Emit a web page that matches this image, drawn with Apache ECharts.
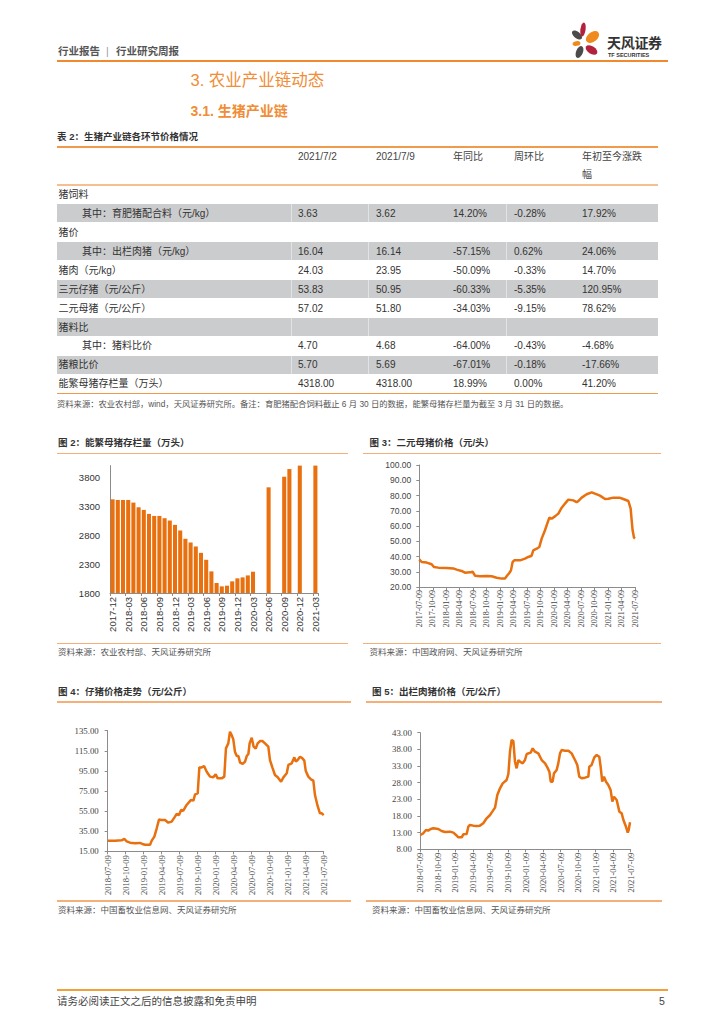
<!DOCTYPE html>
<html><head><meta charset="utf-8">
<script src="https://cdn.jsdelivr.net/npm/echarts/dist/echarts.min.js"></script>
<style>
html,body{margin:0;padding:0;background:#fff;}
#page{position:relative;width:724px;height:1024px;overflow:hidden;font-family:"Liberation Sans","Noto Sans CJK SC",sans-serif;color:#333;}
.t{position:absolute;white-space:nowrap;transform:translateY(-50%);line-height:1.2;}
.box{position:absolute;}
#chart{position:absolute;left:0;top:0;width:724px;height:1024px;}
</style></head>
<body><div id="page"><div id="chart"></div></div>
<script>
// ---------- DATA ----------
const tblHeader = ['2021/7/2', '2021/7/9', '年同比', '周环比', '年初至今涨跌幅'];
const rowLabels = ['猪饲料', '其中：育肥猪配合料（元/kg）', '猪价', '其中：出栏肉猪（元/kg）', '猪肉（元/kg）', '三元仔猪（元/公斤）', '二元母猪（元/公斤）', '猪料比', '其中：猪料比价', '猪粮比价', '能繁母猪存栏量（万头）'];
const rowIndent = [0, 1, 0, 1, 0, 0, 0, 0, 1, 0, 0];
const col0702 = ['', '3.63', '', '16.04', '24.03', '53.83', '57.02', '', '4.70', '5.70', '4318.00'];
const col0709 = ['', '3.62', '', '16.14', '23.95', '50.95', '51.80', '', '4.68', '5.69', '4318.00'];
const colYoY = ['', '14.20%', '', '-57.15%', '-50.09%', '-60.33%', '-34.03%', '', '-64.00%', '-67.01%', '18.99%'];
const colWoW = ['', '-0.28%', '', '0.62%', '-0.33%', '-5.35%', '-9.15%', '', '-0.43%', '-0.18%', '0.00%'];
const colYTD = ['', '17.92%', '', '24.06%', '14.70%', '120.95%', '78.62%', '', '-4.68%', '-17.66%', '41.20%'];

const months2 = ['2017-12','2018-01','2018-02','2018-03','2018-04','2018-05','2018-06','2018-07','2018-08','2018-09','2018-10','2018-11','2018-12','2019-01','2019-02','2019-03','2019-04','2019-05','2019-06','2019-07','2019-08','2019-09','2019-10','2019-11','2019-12','2020-01','2020-02','2020-03','2020-04','2020-05','2020-06','2020-07','2020-08','2020-09','2020-10','2020-11','2020-12','2021-01','2021-02','2021-03'];
const sows2 = [3425,3414,3414,3414,3368,3287,3241,3172,3137,3137,3097,3057,2982,2884,2740,2676,2607,2497,2376,2175,1973,1915,1927,2002,2054,2071,2105,2169,null,null,3633,null,null,3817,3950,null,4161,null,null,4318];

const labels3 = ['2017-07-09','2017-10-09','2018-01-09','2018-04-09','2018-07-09','2018-10-09','2019-01-09','2019-04-09','2019-07-09','2019-10-09','2020-01-09','2020-04-09','2020-07-09','2020-10-09','2021-01-09','2021-04-09','2021-07-09'];
const wk3 = [0,2.3,7.1,11.9,14.1,18.3,26.4,32.8,36.0,40.8,44.0,48.9,51.4,53.7,58.5,64.9,69.8,74.6,79.4,82.6,84.2,86.8,88.4,90.0,91.6,97.1,101.9,105.1,108.3,109.9,113.2,115.7,118.0,121.2,122.8,125.4,127.6,130.8,134.1,137.3,140.5,143.7,148.5,151.7,153.3,156.6,161.4,166.2,169.4,174.2,179.1,182.3,187.1,192.9,196.7,201.6,203.8,204.8,205.7,207.0,208];
const sowPrice3 = [38.1,36.4,36.0,34.9,33.1,32.7,32.5,32.2,31.4,30.5,29.4,29.6,30.1,27.4,27.0,27.2,27.0,26.1,25.5,25.5,27.0,29.2,30.9,36.4,37.5,37.5,38.6,39.7,40.5,44.0,45.1,46.2,51.7,57.2,60.4,65.5,64.8,66.3,68.1,72.0,74.7,77.3,76.8,75.7,76.3,78.6,80.8,82.1,81.2,79.9,77.7,77.9,78.6,78.6,77.7,76.4,71.4,63.7,57.2,52.4,51.8];

const labels45 = ['2018-07-09','2018-10-09','2019-01-09','2019-04-09','2019-07-09','2019-10-09','2020-01-09','2020-04-09','2020-07-09','2020-10-09','2021-01-09','2021-04-09','2021-07-09'];
const wk4 = [0,5.3,10.1,12.0,13.7,16.1,19.7,23.3,25.0,27.0,30.6,31.8,33.7,35.4,37.1,38.5,41.4,43.8,46.2,48.6,49.8,51.5,53.0,54.6,57.0,60.2,61.9,63.1,65.0,66.2,67.9,69.6,71.5,73.9,76.3,78.0,79.4,82.3,84.2,85.4,87.1,88.3,89.5,90.7,91.9,93.2,94.4,95.6,97.5,99.2,100.4,101.6,102.5,104.0,105.4,106.9,108.3,110.0,111.7,113.6,116.0,117.2,118.9,120.8,122.8,125.2,126.9,129.3,130.5,132.9,134.8,135.8,137.2,138.9,140.6,142.0,143.0,144.9,146.8,148.5,149.7,151.6,153.3,154.5,156];
const pigletPrice4 = [25.6,25.6,25.9,27.3,24.9,23.6,23.0,23.3,22.3,21.6,21.6,25.6,29.6,37.9,46.8,46.2,46.2,43.5,44.5,49.5,52.1,51.1,56.1,55.4,61.1,66.1,65.4,71.7,72.7,98.5,98.5,99.9,94.2,89.3,88.6,91.6,87.6,87.6,89.3,117.4,122.4,134.0,130.7,126.4,114.1,109.8,109.8,103.2,101.9,104.2,109.8,111.8,122.4,128.0,119.1,117.1,122.4,124.7,124.7,122.4,119.1,105.8,98.5,90.9,88.6,84.3,88.6,92.6,100.9,102.5,108.5,104.2,105.8,109.1,107.5,105.2,95.2,89.3,86.6,85.3,71.0,60.1,52.8,52.8,51.0];
const wk5 = [0,2.2,4.2,5.9,7.7,9.6,13.3,15.8,18.3,22.0,24.5,26.5,28.2,30.7,31.9,34.4,35.6,36.8,39.3,41.8,44.2,46.7,49.2,51.7,53.4,55.4,57.1,59.1,61.1,64.0,65.3,66.5,67.7,69.0,70.2,71.4,72.7,73.9,75.9,77.6,78.9,81.8,83.3,85.0,87.5,90.0,92.5,94.2,95.7,96.7,98.1,99.1,101.1,102.3,103.6,104.8,107.3,109.8,112.2,114.7,116.4,117.9,119.6,122.1,124.6,125.3,127.0,129.0,130.8,132.7,133.7,134.9,136.2,137.7,139.4,141.1,142.4,143.6,145.6,147.6,149.3,150.6,152.3,153.8,154.5,155.5,156];
const hogPrice5 = [12.3,12.8,13.8,13.6,14.1,14.3,14.1,13.5,13.2,13.3,13.0,12.3,11.6,11.6,12.5,12.6,14.8,15.3,15.1,15.0,15.1,15.8,17.3,18.3,19.3,20.5,24.3,26.3,27.8,28.8,30.6,37.3,40.8,40.5,34.3,32.3,34.8,34.3,33.8,34.8,36.6,37.0,38.3,37.3,36.8,34.8,33.8,32.6,31.3,28.3,28.3,30.8,31.8,33.8,36.8,37.8,37.6,37.6,36.8,34.8,33.3,29.8,29.3,29.5,29.8,32.8,33.3,35.6,36.3,35.8,32.8,28.3,29.8,28.3,27.3,25.8,22.3,23.8,22.8,19.3,18.8,16.8,15.0,13.0,13.8,16.1,16.1];

// ---------- PAGE TEXT / TABLE ----------
const page = document.getElementById('page');
function txt(s, x, y, css) {
  const d = document.createElement('div');
  d.className = 't'; d.textContent = s;
  d.style.left = x + 'px'; d.style.top = y + 'px';
  Object.assign(d.style, css || {});
  page.appendChild(d); return d;
}
function box(x, y, w, h, bg) {
  const d = document.createElement('div');
  d.className = 'box';
  Object.assign(d.style, {left: x + 'px', top: y + 'px', width: w + 'px', height: h + 'px', background: bg});
  page.appendChild(d); return d;
}
const ORANGE = '#ef8a2e';
// header
txt('行业报告', 58, 50.5, {fontSize: '10.5px', fontWeight: 'bold', color: '#555'});
txt('|', 106, 50.5, {fontSize: '10.5px', color: '#999'});
txt('行业研究周报', 116, 50.5, {fontSize: '10.5px', fontWeight: 'bold', color: '#555'});
box(57, 60, 611, 2, ORANGE);
// logo
const logo = document.createElementNS('http://www.w3.org/2000/svg', 'svg');
logo.setAttribute('width', '40'); logo.setAttribute('height', '44');
logo.style.position = 'absolute'; logo.style.left = '566px'; logo.style.top = '19px';
logo.innerHTML =
 '<ellipse cx="11" cy="16" rx="6" ry="3.3" fill="#4b4b4b" transform="rotate(40 11 16)"/>' +
 '<ellipse cx="17" cy="10.5" rx="2.6" ry="7" fill="#b3223d" transform="rotate(8 17 10.5)"/>' +
 '<ellipse cx="26.5" cy="18" rx="7.5" ry="4.8" fill="#f08a1c" transform="rotate(-38 26.5 18)"/>' +
 '<ellipse cx="10.5" cy="24.5" rx="4" ry="2.4" fill="#f08a1c" transform="rotate(-12 10.5 24.5)"/>' +
 '<ellipse cx="25.5" cy="31" rx="6.5" ry="3.8" fill="#b3223d" transform="rotate(32 25.5 31)"/>' +
 '<ellipse cx="13.5" cy="33" rx="3.4" ry="6.3" fill="#4b4b4b" transform="rotate(22 13.5 33)"/>';
page.appendChild(logo);
txt('天风证券', 607, 42.5, {fontSize: '14px', fontWeight: 'bold', color: '#333', letterSpacing: '-0.3px'});
txt('TF SECURITIES', 608, 54.5, {fontSize: '5.5px', fontWeight: 'bold', color: '#333'});
// section titles
txt('3. 农业产业链动态', 190.5, 80.5, {fontSize: '16.5px', color: '#f08d36'});
txt('3.1. 生猪产业链', 190.5, 111, {fontSize: '14px', color: '#f08d36', fontWeight: 'bold'});
// table
txt('表 2：生猪产业链各环节价格情况', 57, 137, {fontSize: '9.5px', fontWeight: 'bold', color: '#333'});
const TL = 57, TR = 658, TOP = 185, RH = 18.94;
box(TL, 146, TR - TL, 1.5, '#f29a4c');
box(TL, 184, TR - TL, 2, '#f7bf90');
box(TL, 392.5, TR - TL, 1.5, '#f29a4c');
const colX = [298, 376, 453, 514, 582];
tblHeader.forEach((h, i) => {
  if (i === 4) {
    txt('年初至今涨跌', colX[i], 157, {fontSize: '10px', color: '#444'});
    txt('幅', colX[i], 175, {fontSize: '10px', color: '#444'});
  } else txt(h, colX[i], 157, {fontSize: '10px', color: '#444'});
});
const cols = [col0702, col0709, colYoY, colWoW, colYTD];
rowLabels.forEach((lab, r) => {
  const y0 = TOP + r * RH;
  if (r % 2 === 1) {
    box(TL, y0 + 0.4, TR - TL, RH - 0.8, '#cbcccd');
    [291.2, 368, 506.2].forEach(sx => box(sx, y0 + 0.4, 1.2, RH - 0.8, '#e2e3e4'));
  }
  const cy = y0 + RH / 2 + 0.5;
  txt(lab, rowIndent[r] ? 82 : 58.5, cy, {fontSize: '10px', color: '#333'});
  cols.forEach((c, k) => { if (c[r]) txt(c[r], colX[k], cy, {fontSize: '10px', color: '#333'}); });
});
txt('资料来源：农业农村部，wind，天风证券研究所。备注：育肥猪配合饲料截止 6 月 30 日的数据，能繁母猪存栏量为截至 3 月 31 日的数据。', 57, 405, {fontSize: '8.3px', color: '#555'});

// chart titles / rules / sources
const ttl = {fontSize: '9.5px', fontWeight: 'bold', color: '#333'};
const src = {fontSize: '8.5px', color: '#555'};
const LO = '#f5b07a';
txt('图 2：能繁母猪存栏量（万头）', 58, 442.5, ttl);
box(57, 452.5, 291, 1.5, LO);
txt('图 3：二元母猪价格（元/头）', 369.5, 442.5, ttl);
box(363, 452.5, 298, 1.5, LO);
box(57, 642.5, 291, 1.5, LO);
box(363, 642.5, 298, 1.5, LO);
txt('资料来源：农业农村部、天风证券研究所', 58, 651.7, src);
txt('资料来源：中国政府网、天风证券研究所', 369.5, 651.7, src);
txt('图 4：仔猪价格走势（元/公斤）', 58, 692.3, ttl);
box(57, 701, 294, 1.5, LO);
txt('图 5：出栏肉猪价格（元/公斤）', 372, 692.3, ttl);
box(366, 701, 296, 1.5, LO);
box(57, 900, 294, 1.5, LO);
box(366, 900, 296, 1.5, LO);
txt('资料来源：中国畜牧业信息网、天风证券研究所', 58, 910, src);
txt('资料来源：中国畜牧业信息网、天风证券研究所', 372, 910, src);
// footer
box(57, 988.5, 611, 2, '#f2a03a');
txt('请务必阅读正文之后的信息披露和免责申明', 57, 1000.7, {fontSize: '10.5px', color: '#444'});
txt('5', 659, 1000.7, {fontSize: '10.5px', color: '#444'});

// ---------- CHARTS ----------
const chart = echarts.init(document.getElementById('chart'), null, {renderer: 'svg', width: 724, height: 1024});
const LINE = '#e8700e';
const axLine = {show: true, lineStyle: {color: '#8c8c8c', width: 1}};
const tick = {show: true, length: 3, lineStyle: {color: '#8c8c8c'}};
const sans = '"Liberation Sans", Arial, sans-serif';
const serif = '"Liberation Serif", "Times New Roman", serif';
function lineX(idx, labels, max, margin, fs) {
  return {type: 'value', gridIndex: idx, min: 0, max: max, interval: 13,
    axisLine: axLine, axisTick: tick, splitLine: {show: false},
    axisLabel: {rotate: 90, margin: margin, fontSize: fs, fontFamily: serif, color: '#444',
      formatter: v => labels[Math.round(v / 13)] || ''}};
}
function lineY(idx, min, max, interval, margin, fs, ff) {
  return {type: 'value', gridIndex: idx, min: min, max: max, interval: interval,
    axisLine: axLine, axisTick: tick, splitLine: {show: false},
    axisLabel: {margin: margin, fontSize: fs, fontFamily: ff, color: '#444', formatter: v => v.toFixed(2)}};
}
const zip = (xs, ys) => xs.map((x, i) => [x, ys[i]]);
chart.setOption({
  animation: false,
  grid: [
    {left: 110, top: 465.6, width: 208, height: 127.4},
    {left: 419.3, top: 465, width: 215.7, height: 122},
    {left: 107.7, top: 730.7, width: 216, height: 120.6},
    {left: 420.3, top: 732.7, width: 210.4, height: 116.6}
  ],
  xAxis: [
    {type: 'category', gridIndex: 0, data: months2,
      axisLine: axLine, axisTick: {show: true, length: 3, interval: 2, lineStyle: {color: '#8c8c8c'}},
      axisLabel: {interval: 2, rotate: 90, margin: 4, fontSize: 9.5, fontFamily: sans, color: '#333'}},
    lineX(1, labels3, 208, 3, 8),
    lineX(2, labels45, 156, 4, 8.5),
    lineX(3, labels45, 156, 3.5, 8.5)
  ],
  yAxis: [
    {type: 'value', gridIndex: 0, min: 1800, max: 4010, interval: 500,
      axisLine: axLine, axisTick: {show: false}, splitLine: {show: false},
      axisLabel: {showMaxLabel: false, margin: 10, fontSize: 9.5, fontFamily: sans, color: '#333',
        formatter: v => String(v)}},
    lineY(1, 20, 100, 10, 8, 8.5, sans),
    lineY(2, 15, 135, 20, 9, 8.8, serif),
    lineY(3, 8, 43, 5, 8.5, 8.8, serif)
  ],
  series: [
    {type: 'bar', xAxisIndex: 0, yAxisIndex: 0, data: sows2, barCategoryGap: '22%',
      itemStyle: {color: LINE}},
    {type: 'line', xAxisIndex: 1, yAxisIndex: 1, data: zip(wk3, sowPrice3), showSymbol: false,
      lineStyle: {color: LINE, width: 2.5}},
    {type: 'line', xAxisIndex: 2, yAxisIndex: 2, data: zip(wk4, pigletPrice4), showSymbol: false,
      lineStyle: {color: LINE, width: 2.5}},
    {type: 'line', xAxisIndex: 3, yAxisIndex: 3, data: zip(wk5, hogPrice5), showSymbol: false,
      lineStyle: {color: LINE, width: 2.5}}
  ]
});
</script>
</body></html>
